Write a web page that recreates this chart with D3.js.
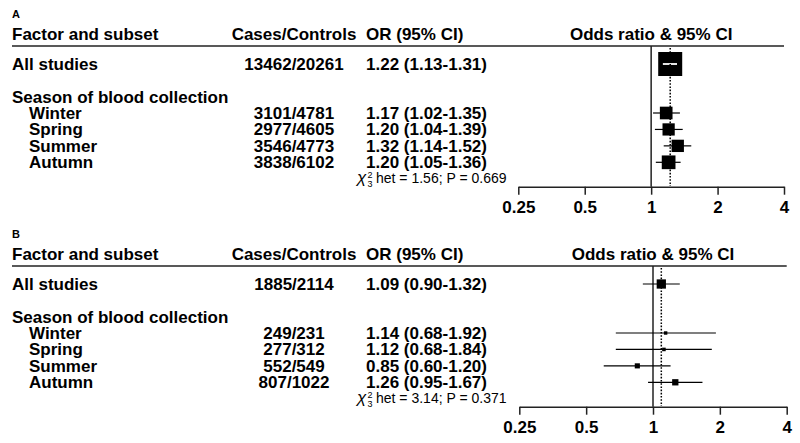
<!DOCTYPE html>
<html>
<head>
<meta charset="utf-8">
<script src="https://cdn.jsdelivr.net/npm/d3@7"></script>
<style>
  body { margin: 0; background: #fff; }
  svg { display: block; font-family: "Liberation Sans", Arial, Helvetica, sans-serif; }
</style>
</head>
<body>
<svg></svg>
<script>
// forest plot, two panels (A: all, B: subset)

let width = 800
let height = 443

let panelNames = ["A", "B"]
let groupTitle = "Season of blood collection"
let overallLabel = "All studies"
let seasons = ["Winter", "Spring", "Summer", "Autumn"]

let casesA = ["13462/20261", "3101/4781", "2977/4605", "3546/4773", "3838/6102"]
let orA = [1.22, 1.17, 1.20, 1.32, 1.20]
let loA = [1.13, 1.02, 1.04, 1.14, 1.05]
let hiA = [1.31, 1.35, 1.39, 1.52, 1.36]
let hetA = [1.56, 0.669]

let casesB = ["1885/2114", "249/231", "277/312", "552/549", "807/1022"]
let orB = [1.09, 1.14, 1.12, 0.85, 1.26]
let loB = [0.90, 0.68, 0.68, 0.60, 0.95]
let hiB = [1.32, 1.92, 1.84, 1.20, 1.67]
let hetB = [3.14, 0.371]

let tickValues = [0.25, 0.5, 1, 2, 4]

let f2 = d3.format(".2f")

// layout
let ruleY = [46, 266]
let axisRange = [[518.3, 784], [519.3, 786.7]]
let leftX = 12
let indentX = 29
let casesX = 294
let orX = 366
let fs = "17px"

let svg = d3.select("svg").attr("width", width).attr("height", height)

// weight from CI width -> box area
let weight = (lo, hi) => {
  let se = (Math.log(hi) - Math.log(lo)) / (2 * 1.96)
  return 1 / (se * se)
}
let maxW = d3.max([...loA.map((l, i) => weight(l, hiA[i])), ...loB.map((l, i) => weight(l, hiB[i]))])
let boxScale = d3.scaleSqrt().domain([0, maxW]).range([0, 24])

let rowScale = d3.scalePoint().domain(seasons).range([73, 122.3])

let drawPanel = (p, cases, or, lo, hi, het) => {
  let top = ruleY[p]
  let g = svg.append("g").attr("transform", "translate(0," + top + ")")
  let x = d3.scaleLog().base(2).domain([0.25, 4]).range(axisRange[p])

  let rows = cases.map((c, i) => ({
    label: i == 0 ? overallLabel : seasons[i - 1],
    cases: c, or: or[i], lo: lo[i], hi: hi[i],
    y: i == 0 ? 24 : rowScale(seasons[i - 1]),
    w: weight(lo[i], hi[i])
  }))

  // panel letter
  g.append("text").attr("x", leftX).attr("y", -27.7)
    .style("font-size", "11px").style("font-weight", "bold").text(panelNames[p])

  // header
  let hdr = g.append("g").style("font-size", fs).style("font-weight", "bold")
  hdr.append("text").attr("x", leftX).attr("y", -5.7).text("Factor and subset")
  hdr.append("text").attr("x", casesX).attr("y", -5.7).attr("text-anchor", "middle").text("Cases/Controls")
  hdr.append("text").attr("x", orX).attr("y", -5.7).text("OR (95% CI)")
  hdr.append("text").attr("x", x(1)).attr("y", -5.7).attr("text-anchor", "middle").text("Odds ratio & 95% CI")

  g.append("line").attr("x1", leftX).attr("x2", axisRange[p][1]).attr("y1", 0).attr("y2", 0)
    .attr("stroke", "#222").attr("stroke-width", 1.6)

  // text columns
  let body = g.append("g").style("font-size", fs).style("font-weight", "bold")
  body.append("text").attr("x", leftX).attr("y", 57.3).text(groupTitle)
  body.selectAll(".lab").data(rows).enter().append("text")
    .attr("x", (d, i) => i == 0 ? leftX : indentX).attr("y", d => d.y).text(d => d.label)
  body.selectAll(".cc").data(rows).enter().append("text")
    .attr("x", casesX).attr("y", d => d.y).attr("text-anchor", "middle").text(d => d.cases)
  body.selectAll(".orv").data(rows).enter().append("text")
    .attr("x", orX).attr("y", d => d.y)
    .text(d => f2(d.or) + " (" + f2(d.lo) + "-" + f2(d.hi) + ")")

  // heterogeneity
  let ht = g.append("g").style("font-size", "14px")
  ht.append("text").attr("x", 357).attr("y", 137.3).style("font-size", "17px").style("font-style", "italic").text("\u03c7")
  ht.append("text").attr("x", 367.5).attr("y", 131.5).style("font-size", "9px").text("2")
  ht.append("text").attr("x", 367.5).attr("y", 140.5).style("font-size", "9px").text("3")
  ht.append("text").attr("x", 376).attr("y", 137.3)
    .text("het = " + f2(het[0]) + "; P = " + d3.format(".3f")(het[1]))

  // reference line at 1
  g.append("line").attr("x1", x(1)).attr("x2", x(1)).attr("y1", 0).attr("y2", 140.7)
    .attr("stroke", "#222").attr("stroke-width", 1.5)

  // CIs and boxes
  g.selectAll(".ci").data(rows).enter().append("line")
    .attr("x1", d => x(d.lo)).attr("x2", d => x(d.hi))
    .attr("y1", d => d.y - 6).attr("y2", d => d.y - 6)
    .attr("stroke", "#000").attr("stroke-width", 1.2)
  g.selectAll(".box").data(rows).enter().append("rect")
    .attr("x", d => x(d.or) - boxScale(d.w) / 2)
    .attr("y", d => d.y - 6 - boxScale(d.w) / 2)
    .attr("width", d => boxScale(d.w)).attr("height", d => boxScale(d.w))
    .attr("fill", "#000")
  // CI inside a box wider than it shows white
  g.selectAll(".ciw").data(rows.filter(d => x(d.hi) - x(d.lo) < boxScale(d.w))).enter().append("line")
    .attr("x1", d => x(d.lo)).attr("x2", d => x(d.hi))
    .attr("y1", d => d.y - 6).attr("y2", d => d.y - 6)
    .attr("stroke", "#fff").attr("stroke-width", 1.8)

  // pooled estimate, dotted
  g.append("line").attr("x1", x(or[0])).attr("x2", x(or[0])).attr("y1", 2).attr("y2", 140)
    .attr("stroke", "#000").attr("stroke-width", 1.5).attr("stroke-dasharray", "1.6,1.6")

  // axis
  let axis = d3.axisBottom(x).tickValues(tickValues).tickFormat(d => d)
    .tickSize(8).tickSizeOuter(0).tickPadding(6)
  let ax = g.append("g").attr("transform", "translate(0,140.7)").call(axis)
  ax.selectAll("path, line").attr("stroke", "#222").attr("stroke-width", 1.5)
  ax.selectAll("text").style("font-size", fs).style("font-weight", "bold")
    .style("font-family", "\"Liberation Sans\", Arial, sans-serif").attr("fill", "#000")
}

drawPanel(0, casesA, orA, loA, hiA, hetA)
drawPanel(1, casesB, orB, loB, hiB, hetB)
</script>
</body>
</html>
